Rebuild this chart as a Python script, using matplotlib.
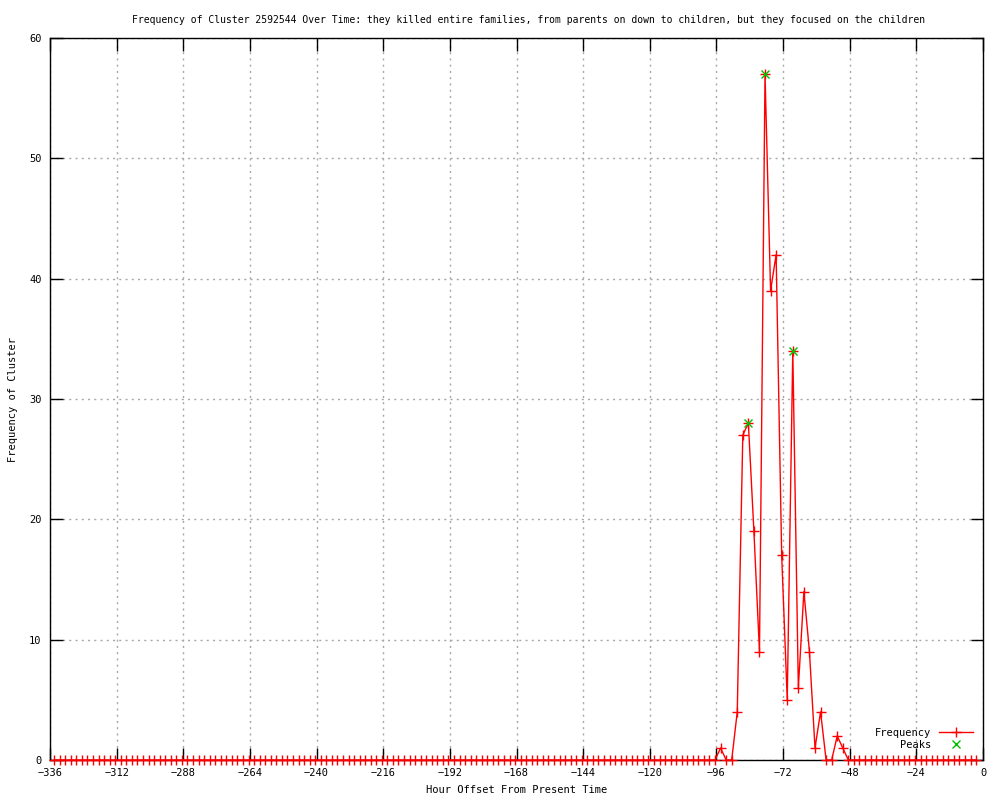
import matplotlib
matplotlib.use('Agg')
import matplotlib.pyplot as plt
import numpy as np

# 2-hour bins, offsets from present time
hours = np.arange(-334.5, -1, 2)
# non-zero counts (hour offset -> frequency)
nonzero_hours = [-94.5, -88.5, -86.5, -84.5, -82.5, -80.5, -78.5, -76.5, -74.5, -72.5,
                 -70.5, -68.5, -66.5, -64.5, -62.5, -60.5, -58.5, -52.5, -50.5]
nonzero_counts = [1, 4, 27, 28, 19, 9, 57, 39, 42, 17,
                  5, 34, 6, 14, 9, 1, 4, 2, 1]
peak_hours = [-84.5, -78.5, -68.5]
peak_counts = [28, 57, 34]

title = ("Frequency of Cluster 2592544 Over Time: they killed entire families, "
         "from parents on down to children, but they focused on the children")

freq = np.zeros(len(hours))
for h, c in zip(nonzero_hours, nonzero_counts):
    freq[np.argmin(np.abs(hours - h))] = c

plt.rcParams['font.family'] = 'DejaVu Sans Mono'
plt.rcParams['font.size'] = 7.5

fig = plt.figure(figsize=(10, 8), dpi=100)
ax = fig.add_axes([0.05, 0.05, 0.933, 0.9025])

ax.plot(hours, freq, color='red', lw=1, marker='+', ms=6.5, mew=1, label='Frequency',
        clip_on=False, zorder=3)
ax.plot(peak_hours, peak_counts, ls='none', color='#00c000', marker='x', ms=5.5, mew=1,
        label='Peaks', zorder=4)

ax.set_xlim(-336, 0)
ax.set_ylim(0, 60)
ax.set_xticks(np.arange(-336, 1, 24))
ax.set_yticks(np.arange(0, 61, 10))
ax.tick_params(direction='in', length=9, width=1, top=True, right=True, pad=6)
ax.grid(True, color='#a8a8a8', ls=(0, (1.5, 3)), lw=1)
ax.set_axisbelow(True)
for s in ax.spines.values():
    s.set_linewidth(1)

ax.set_title(title, fontsize=7, pad=11, x=0.513)
ax.set_xlabel('Hour Offset From Present Time', labelpad=5)
ax.set_ylabel('Frequency of Cluster', labelpad=8)

ax.legend(loc='lower right', frameon=False, markerfirst=False, handlelength=3.2,
          borderaxespad=0.6, labelspacing=0.2, fontsize=7.5)

plt.savefig('out.png', dpi=100)
